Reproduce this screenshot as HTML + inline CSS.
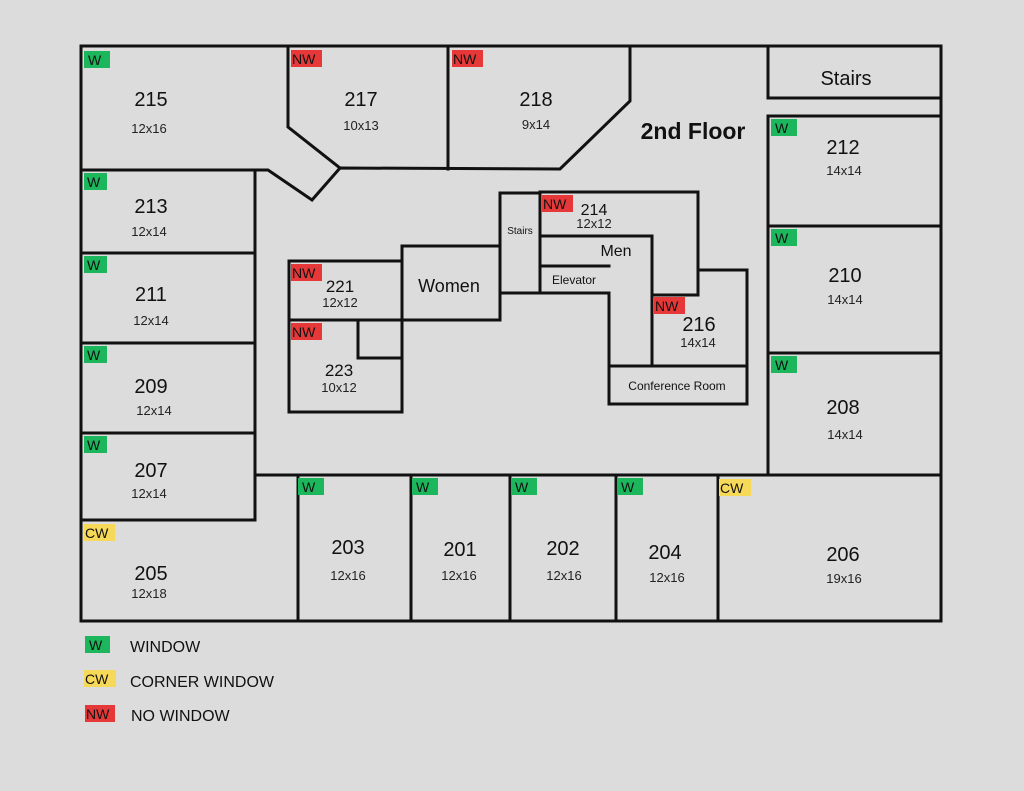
<!DOCTYPE html>
<html><head><style>
html,body{margin:0;padding:0;background:#dcdcdc;}
svg{display:block;}
text{font-family:"Liberation Sans",sans-serif;fill:#111;}
.n{font-size:20px;text-anchor:middle;}
.d{font-size:13px;text-anchor:middle;fill:#222;}
.b{font-size:14px;}
</style></head><body>
<svg width="1024" height="791" viewBox="0 0 1024 791">
<rect width="1024" height="791" fill="#dcdcdc"/>
<g stroke="#111" stroke-width="3" fill="none" stroke-linecap="square">
<!-- outer -->
<polyline points="81,46 941,46 941,621 81,621 81,46"/>
<!-- top rooms -->
<polyline points="81,170 255,170"/>
<polyline points="255,170 268,170 312,200 340,168 560,169 630,101 630,46"/>
<polyline points="288,46 288,127 340,168"/>
<line x1="448" y1="46" x2="448" y2="169"/>
<!-- left column -->
<line x1="255" y1="170" x2="255" y2="520"/>
<line x1="81" y1="253" x2="255" y2="253"/>
<line x1="81" y1="343" x2="255" y2="343"/>
<line x1="81" y1="433" x2="255" y2="433"/>
<line x1="81" y1="520" x2="255" y2="520"/>
<!-- bottom row -->
<line x1="255" y1="475" x2="941" y2="475"/>
<line x1="298" y1="475" x2="298" y2="621"/>
<line x1="411" y1="475" x2="411" y2="621"/>
<line x1="510" y1="475" x2="510" y2="621"/>
<line x1="616" y1="475" x2="616" y2="621"/>
<line x1="718" y1="475" x2="718" y2="621"/>
<!-- right column -->
<polyline points="768,46 768,98 941,98"/>
<polyline points="768,475 768,116 941,116"/>
<line x1="768" y1="226" x2="941" y2="226"/>
<line x1="768" y1="353" x2="941" y2="353"/>
<!-- center -->
<rect x="289" y="261" width="113" height="151"/>
<line x1="289" y1="320" x2="500" y2="320"/>
<polyline points="358,320 358,358 402,358"/>
<polyline points="402,320 402,246 500,246 500,320"/>
<polyline points="500,293 500,193 540,193 540,293"/>
<polyline points="540,192 698,192 698,295 652,295"/>
<polyline points="500,293 609,293 609,404 747,404 747,270 698,270"/>
<polyline points="540,236 652,236 652,366"/>
<polyline points="540,266 609,266"/>
<line x1="609" y1="366" x2="747" y2="366"/>
</g>
<!-- badges -->
<g>
<rect x="84" y="51" width="26" height="17" fill="#1cb65c"/><text x="88" y="65" class="b">W</text>
<rect x="84" y="173" width="23" height="17" fill="#1cb65c"/><text x="87" y="187" class="b">W</text>
<rect x="84" y="256" width="23" height="17" fill="#1cb65c"/><text x="87" y="270" class="b">W</text>
<rect x="84" y="346" width="23" height="17" fill="#1cb65c"/><text x="87" y="360" class="b">W</text>
<rect x="84" y="436" width="23" height="17" fill="#1cb65c"/><text x="87" y="450" class="b">W</text>
<rect x="84" y="524" width="31" height="17" fill="#f7d95a"/><text x="85" y="538" class="b">CW</text>
<rect x="291" y="50" width="31" height="17" fill="#e63838"/><text x="292" y="64" class="b">NW</text>
<rect x="452" y="50" width="31" height="17" fill="#e63838"/><text x="453" y="64" class="b">NW</text>
<rect x="771" y="119" width="26" height="17" fill="#1cb65c"/><text x="775" y="133" class="b">W</text>
<rect x="771" y="229" width="26" height="17" fill="#1cb65c"/><text x="775" y="243" class="b">W</text>
<rect x="771" y="356" width="26" height="17" fill="#1cb65c"/><text x="775" y="370" class="b">W</text>
<rect x="719" y="479" width="32" height="17" fill="#f7d95a"/><text x="720" y="493" class="b">CW</text>
<rect x="298" y="478" width="26" height="17" fill="#1cb65c"/><text x="302" y="492" class="b">W</text>
<rect x="412" y="478" width="26" height="17" fill="#1cb65c"/><text x="416" y="492" class="b">W</text>
<rect x="511" y="478" width="26" height="17" fill="#1cb65c"/><text x="515" y="492" class="b">W</text>
<rect x="617" y="478" width="26" height="17" fill="#1cb65c"/><text x="621" y="492" class="b">W</text>
<rect x="291" y="264" width="31" height="17" fill="#e63838"/><text x="292" y="278" class="b">NW</text>
<rect x="291" y="323" width="31" height="17" fill="#e63838"/><text x="292" y="337" class="b">NW</text>
<rect x="542" y="195" width="31" height="17" fill="#e63838"/><text x="543" y="209" class="b">NW</text>
<rect x="654" y="297" width="31" height="17" fill="#e63838"/><text x="655" y="311" class="b">NW</text>
</g>
<!-- labels -->
<text x="151" y="106" class="n">215</text><text x="149" y="133" class="d">12x16</text>
<text x="361" y="106" class="n">217</text><text x="361" y="130" class="d">10x13</text>
<text x="536" y="106" class="n">218</text><text x="536" y="129" class="d">9x14</text>
<text x="693" y="139" style="font-size:23px;font-weight:bold;text-anchor:middle">2nd Floor</text>
<text x="846" y="85" style="font-size:20px;text-anchor:middle">Stairs</text>
<text x="151" y="213" class="n">213</text><text x="149" y="236" class="d">12x14</text>
<text x="151" y="301" class="n">211</text><text x="151" y="325" class="d">12x14</text>
<text x="151" y="393" class="n">209</text><text x="154" y="415" class="d">12x14</text>
<text x="151" y="477" class="n">207</text><text x="149" y="498" class="d">12x14</text>
<text x="151" y="580" class="n">205</text><text x="149" y="598" class="d">12x18</text>
<text x="348" y="554" class="n">203</text><text x="348" y="580" class="d">12x16</text>
<text x="460" y="556" class="n">201</text><text x="459" y="580" class="d">12x16</text>
<text x="563" y="555" class="n">202</text><text x="564" y="580" class="d">12x16</text>
<text x="665" y="559" class="n">204</text><text x="667" y="582" class="d">12x16</text>
<text x="843" y="561" class="n">206</text><text x="844" y="583" class="d">19x16</text>
<text x="843" y="414" class="n">208</text><text x="845" y="439" class="d">14x14</text>
<text x="845" y="282" class="n">210</text><text x="845" y="304" class="d">14x14</text>
<text x="843" y="154" class="n">212</text><text x="844" y="175" class="d">14x14</text>
<text x="340" y="292" style="font-size:17px;text-anchor:middle">221</text><text x="340" y="307" class="d">12x12</text>
<text x="339" y="376" style="font-size:17px;text-anchor:middle">223</text><text x="339" y="392" class="d">10x12</text>
<text x="449" y="292" style="font-size:18px;text-anchor:middle">Women</text>
<text x="520" y="234" style="font-size:10px;text-anchor:middle">Stairs</text>
<text x="594" y="215" style="font-size:16px;text-anchor:middle">214</text><text x="594" y="228" class="d">12x12</text>
<text x="616" y="256" style="font-size:16px;text-anchor:middle">Men</text>
<text x="574" y="284" style="font-size:12px;text-anchor:middle">Elevator</text>
<text x="699" y="331" class="n">216</text><text x="698" y="347" class="d">14x14</text>
<text x="677" y="390" style="font-size:12px;text-anchor:middle">Conference Room</text>
<!-- legend -->
<rect x="85" y="636" width="25" height="17" fill="#1cb65c"/><text x="89" y="650" class="b">W</text>
<text x="130" y="652" style="font-size:16px">WINDOW</text>
<rect x="84" y="670" width="32" height="17" fill="#f7d95a"/><text x="85" y="684" class="b">CW</text>
<text x="130" y="687" style="font-size:16px">CORNER WINDOW</text>
<rect x="85" y="705" width="30" height="17" fill="#e63838"/><text x="86" y="719" class="b">NW</text>
<text x="131" y="721" style="font-size:16px">NO WINDOW</text>
</svg>
</body></html>
